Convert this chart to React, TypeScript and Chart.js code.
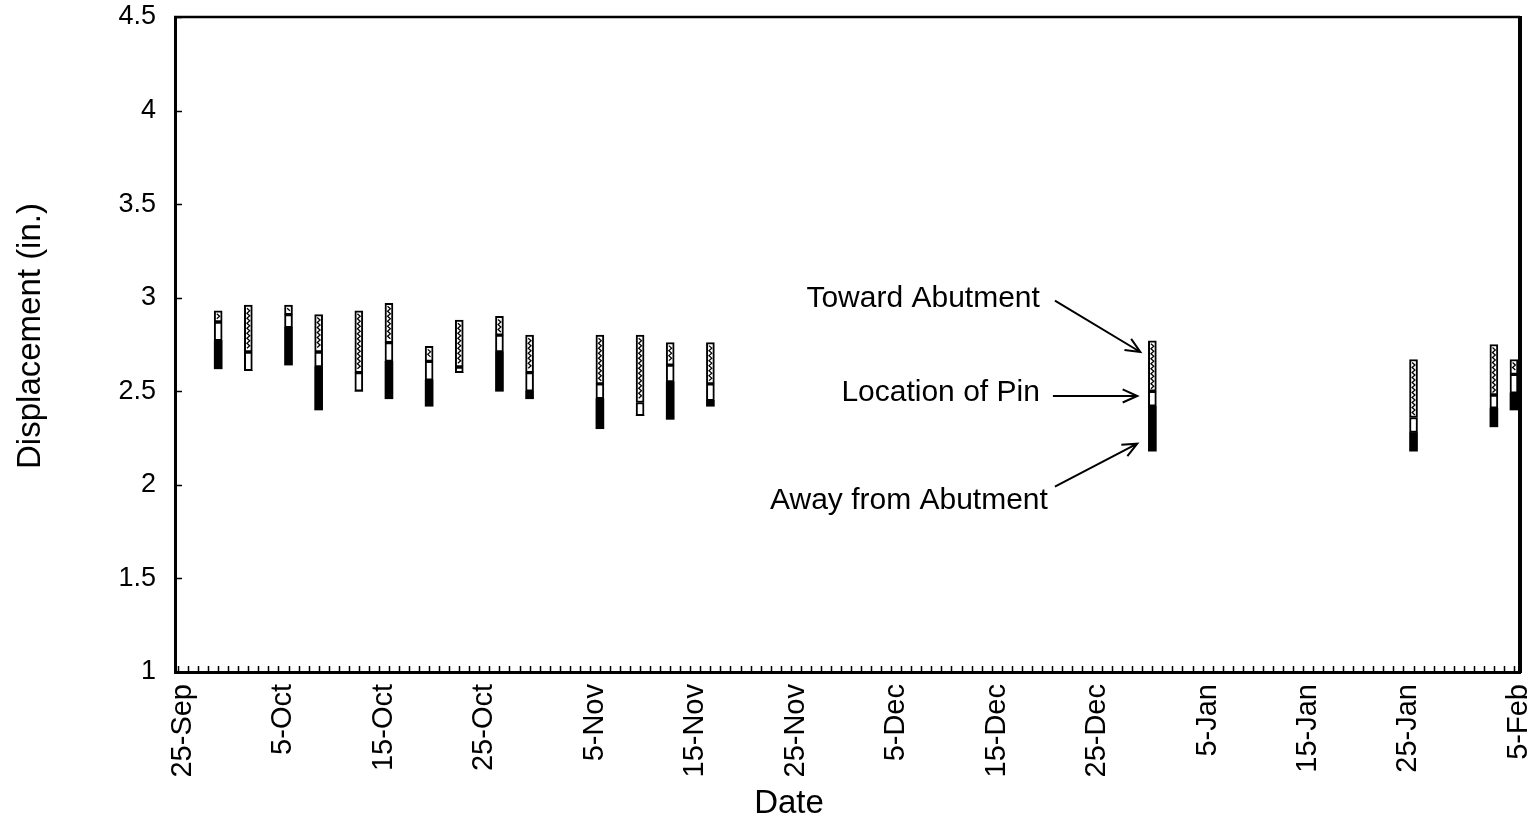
import React, { useEffect, useRef } from 'react';
import { Chart, registerables } from 'chart.js';

Chart.register(...registerables);

// Day offsets counted from 25-Sep
const BAR_DAYS = [4, 7, 11, 14, 18, 21, 25, 28, 32, 35, 42, 46, 49, 53, 97, 123, 131, 133];
// Bottom of the "away from abutment" segment
const AWAY_LOW = [2.62, 2.61, 2.64, 2.40, 2.50, 2.46, 2.42, 2.60, 2.50, 2.46, 2.30, 2.37, 2.35, 2.42, 2.18, 2.18, 2.31, 2.40];
// Pin location box (low / high)
const PIN_LOW = [2.77, 2.61, 2.84, 2.63, 2.50, 2.66, 2.56, 2.60, 2.71, 2.50, 2.46, 2.37, 2.55, 2.45, 2.42, 2.28, 2.41, 2.49];
const PIN_HIGH = [2.87, 2.71, 2.91, 2.71, 2.60, 2.76, 2.66, 2.63, 2.80, 2.60, 2.54, 2.44, 2.64, 2.54, 2.50, 2.36, 2.48, 2.59];
// Top of the "toward abutment" segment
const TOWARD_HIGH = [2.93, 2.96, 2.96, 2.91, 2.93, 2.97, 2.74, 2.88, 2.90, 2.80, 2.80, 2.80, 2.76, 2.76, 2.77, 2.67, 2.75, 2.67];

const TICK_DAYS = [0, 10, 20, 30, 41, 51, 61, 71, 81, 91, 102, 112, 122, 133];
const TICK_LABELS = ['25-Sep', '5-Oct', '15-Oct', '25-Oct', '5-Nov', '15-Nov', '25-Nov', '5-Dec', '15-Dec', '25-Dec', '5-Jan', '15-Jan', '25-Jan', '5-Feb'];

const Y_MIN = 1;
const Y_MAX = 4.5;
const Y_STEP = 0.5;
const X_MIN = -0.3;
const X_MAX = 133.6;
const LAST_DAY = 133;

const ANNOTATIONS = [
  { text: 'Toward Abutment', tx: 85.8, ty: 2.995, from: [87.3, 2.985], to: [95.8, 2.71] },
  { text: 'Location of Pin', tx: 85.8, ty: 2.49, from: [87.1, 2.475], to: [95.5, 2.475] },
  { text: 'Away from Abutment', tx: 86.6, ty: 1.913, from: [87.3, 1.99], to: [95.5, 2.22] },
];

const FONT = '"Liberation Sans", Arial, Helvetica, sans-serif';

const decorPlugin = {
  id: 'decor',
  afterDatasetsDraw(chart: any) {
    const ctx = chart.ctx;
    const meta = chart.getDatasetMeta(2);
    ctx.save();
    ctx.strokeStyle = '#000';
    ctx.lineWidth = 1.3;
    meta.data.forEach((el: any) => {
      const top = Math.min(el.y, el.base) + 3;
      const bot = Math.max(el.y, el.base) - 2;
      if (bot - top < 3) return;
      ctx.beginPath();
      let s = 0;
      for (let yy = top; yy <= bot; yy += 2.5) {
        const xx = el.x + (s % 2 === 0 ? -1.4 : 1.4);
        if (s === 0) ctx.moveTo(xx, yy);
        else ctx.lineTo(xx, yy);
        s++;
      }
      ctx.stroke();
    });
    ctx.restore();
  },
  afterDraw(chart: any) {
    const ctx = chart.ctx;
    const { left, right, top, bottom } = chart.chartArea;
    const xs = chart.scales.x;
    const ys = chart.scales.y;
    ctx.save();
    ctx.strokeStyle = '#000';
    // frame top & right
    ctx.lineWidth = 2.5;
    ctx.beginPath();
    ctx.moveTo(left - 1, top);
    ctx.lineTo(right, top);
    ctx.stroke();
    ctx.lineWidth = 4;
    ctx.beginPath();
    ctx.moveTo(right, top - 1);
    ctx.lineTo(right, bottom + 1);
    ctx.stroke();
    // inner daily ticks on x axis
    ctx.lineWidth = 1.5;
    ctx.beginPath();
    for (let d = 0; d <= LAST_DAY; d++) {
      const px = Math.round(xs.getPixelForValue(d)) + 0.5;
      ctx.moveTo(px, bottom);
      ctx.lineTo(px, bottom - 6);
    }
    ctx.stroke();
    // inner ticks on y axis
    ctx.beginPath();
    for (let v = Y_MIN; v <= Y_MAX + 1e-9; v += Y_STEP) {
      const py = Math.round(ys.getPixelForValue(v)) + 0.5;
      ctx.moveTo(left, py);
      ctx.lineTo(left + 7, py);
    }
    ctx.stroke();

    // axis titles
    ctx.fillStyle = '#000';
    ctx.font = `33px ${FONT}`;
    ctx.textAlign = 'center';
    ctx.textBaseline = 'middle';
    ctx.fillText('Date', 789, 804);
    ctx.save();
    ctx.translate(31, 336);
    ctx.rotate(-Math.PI / 2);
    ctx.fillText('Displacement (in.)', 0, 0);
    ctx.restore();

    // annotations
    ctx.font = `30px ${FONT}`;
    ctx.textAlign = 'right';
    ctx.textBaseline = 'middle';
    ANNOTATIONS.forEach((a) => {
      ctx.fillText(a.text, xs.getPixelForValue(a.tx), ys.getPixelForValue(a.ty));
      const x1 = xs.getPixelForValue(a.from[0]);
      const y1 = ys.getPixelForValue(a.from[1]);
      const x2 = xs.getPixelForValue(a.to[0]);
      const y2 = ys.getPixelForValue(a.to[1]);
      ctx.lineWidth = 2;
      ctx.beginPath();
      ctx.moveTo(x1, y1);
      ctx.lineTo(x2, y2);
      const ang = Math.atan2(y2 - y1, x2 - x1);
      const L = 16;
      const w = 0.42;
      ctx.moveTo(x2 - L * Math.cos(ang - w), y2 - L * Math.sin(ang - w));
      ctx.lineTo(x2, y2);
      ctx.lineTo(x2 - L * Math.cos(ang + w), y2 - L * Math.sin(ang + w));
      ctx.stroke();
    });
    ctx.restore();
  },
};

export default function App() {
  const ref = useRef<HTMLCanvasElement | null>(null);
  useEffect(() => {
    if (!ref.current) return;
    const common = { grouped: false, barThickness: 8, borderSkipped: false as const };
    const chart = new Chart(ref.current, {
      type: 'bar',
      data: {
        datasets: [
          {
            label: 'Away from Abutment',
            data: BAR_DAYS.map((d, i) => ({ x: d, y: [AWAY_LOW[i], PIN_LOW[i]] })) as any,
            backgroundColor: '#000',
            borderColor: '#000',
            borderWidth: 0,
            ...common,
          },
          {
            label: 'Location of Pin',
            data: BAR_DAYS.map((d, i) => ({ x: d, y: [PIN_LOW[i], PIN_HIGH[i]] })) as any,
            backgroundColor: '#fff',
            borderColor: '#000',
            borderWidth: 2,
            ...common,
          },
          {
            label: 'Toward Abutment',
            data: BAR_DAYS.map((d, i) => ({ x: d, y: [PIN_HIGH[i], TOWARD_HIGH[i]] })) as any,
            backgroundColor: '#fff',
            borderColor: '#000',
            borderWidth: 2,
            ...common,
          },
        ],
      },
      options: {
        responsive: false,
        animation: false,
        layout: { padding: { top: 17, right: 20, left: 0, bottom: 0 } },
        plugins: { legend: { display: false }, tooltip: { enabled: false } },
        scales: {
          x: {
            type: 'linear',
            min: X_MIN,
            max: X_MAX,
            offset: false,
            grid: { display: false, drawTicks: false, offset: false },
            border: { display: true, color: '#000', width: 3 },
            afterBuildTicks: (scale: any) => {
              scale.ticks = TICK_DAYS.map((v) => ({ value: v }));
            },
            afterFit: (scale: any) => {
              scale.height = 823 - 672;
              scale.paddingLeft = 0;
              scale.paddingRight = 0;
            },
            ticks: {
              autoSkip: false,
              minRotation: 90,
              maxRotation: 90,
              padding: 12,
              labelOffset: 5,
              color: '#000',
              font: { family: FONT, size: 29 },
              callback: (v: any) => {
                const i = TICK_DAYS.indexOf(Number(v));
                return i >= 0 ? TICK_LABELS[i] : '';
              },
            },
          },
          y: {
            type: 'linear',
            min: Y_MIN,
            max: Y_MAX,
            grid: { display: false, drawTicks: false },
            border: { display: true, color: '#000', width: 3 },
            afterFit: (scale: any) => {
              scale.width = 175;
              scale.paddingTop = 0;
              scale.paddingBottom = 0;
            },
            ticks: {
              stepSize: Y_STEP,
              padding: 19,
              color: '#000',
              font: { family: FONT, size: 27 },
              callback: (v: any) => String(v),
            },
          },
        },
      },
      plugins: [decorPlugin],
    });
    return () => chart.destroy();
  }, []);
  return (
    <div style={{ position: 'absolute', left: 0, top: 0, width: 1540, height: 823, background: '#fff' }}>
      <canvas ref={ref} width={1540} height={823} />
    </div>
  );
}
